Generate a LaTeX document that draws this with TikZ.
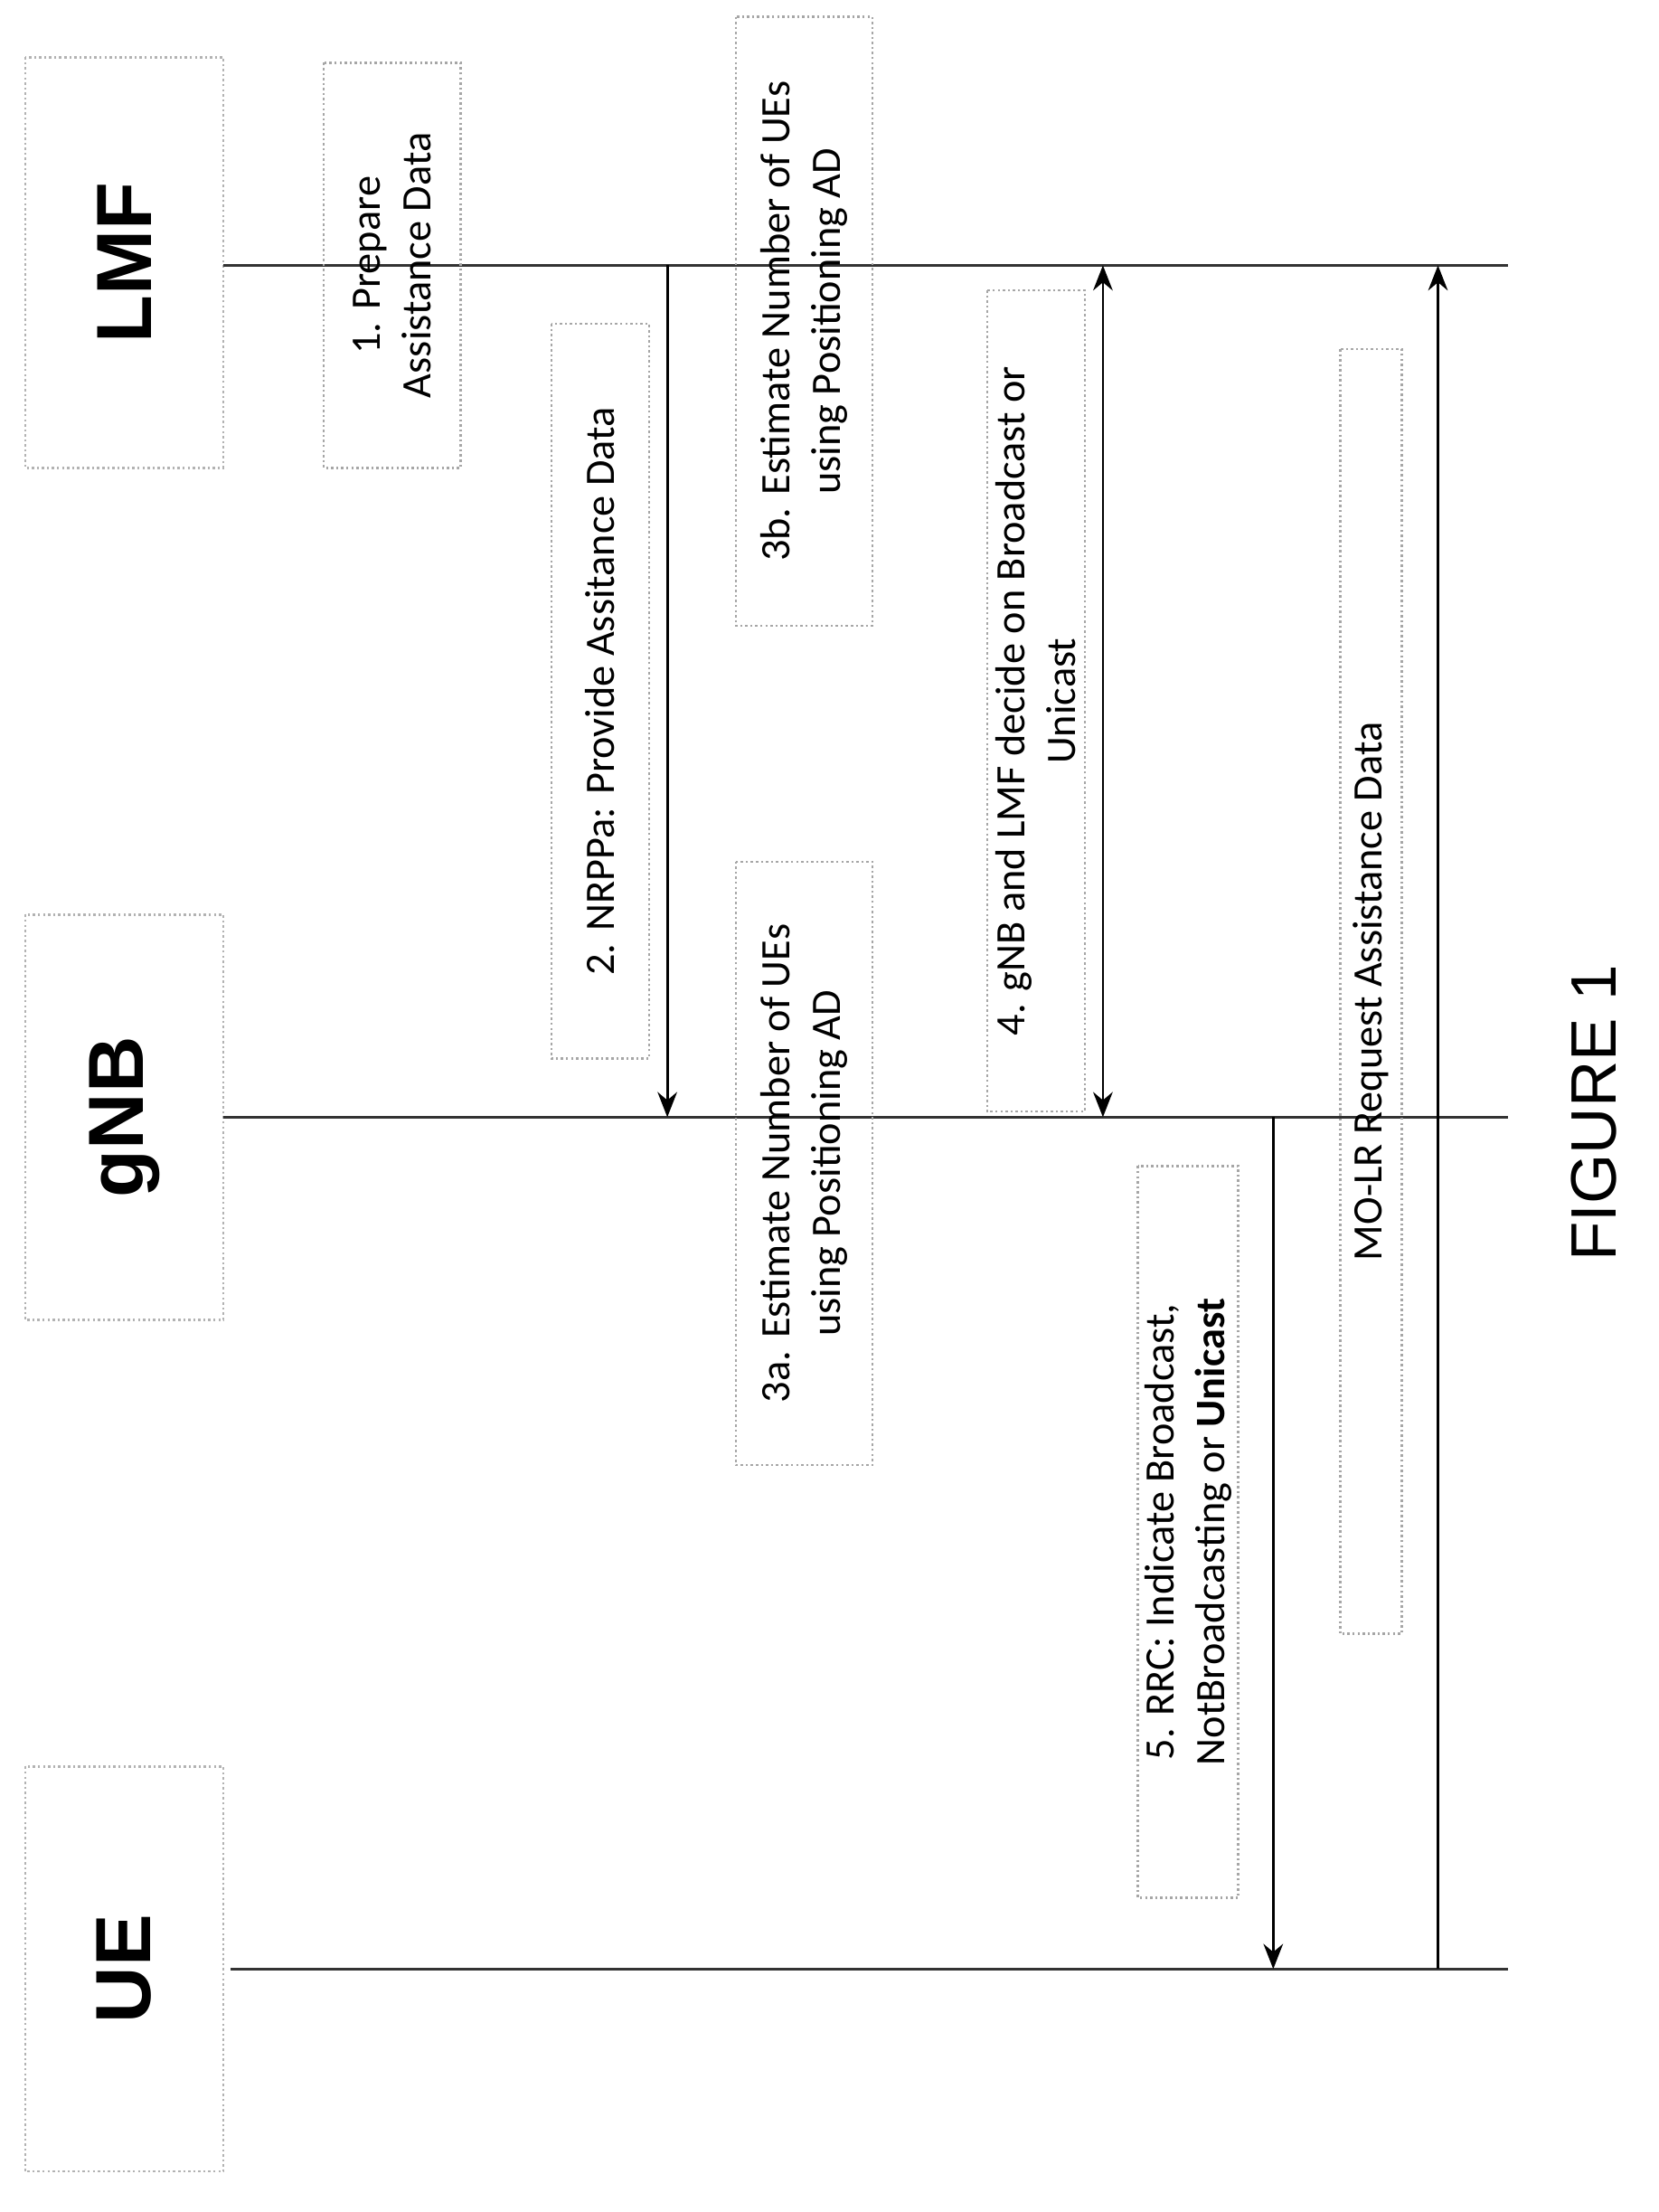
\documentclass[tikz,border=0pt]{standalone}
\usepackage{fontspec}
\setmainfont{Carlito}
\newfontfamily\hdr{Liberation Sans}
\usetikzlibrary{arrows.meta}
\begin{document}
\begin{tikzpicture}[x=0.5pt,y=-0.5pt,
  box/.style={draw=gray!70,densely dotted,line width=0.8pt,rotate=90,inner sep=2pt,align=center,font=\fontsize{15}{18}\selectfont},
  hbox/.style={draw=gray!60,densely dotted,line width=0.8pt,rotate=90,font=\hdr\bfseries\fontsize{28}{30}\selectfont},
  life/.style={line width=0.9pt,draw=black!80},
  msg/.style={line width=0.9pt,-{Stealth[length=9pt,width=7pt]}}]
\useasboundingbox (0,0) rectangle (1188,1584);
% headers
\node[hbox,minimum width=145pt,minimum height=71pt] (ue) at (89,1410) {UE};
\node[hbox,minimum width=145pt,minimum height=71pt] (gnb) at (89,800) {gNB};
\node[hbox,minimum width=147pt,minimum height=71pt] (lmf) at (89,188) {LMF};
% lifelines
\coordinate (lmfE) at (1080,190);
\coordinate (gnbE) at (1080,800);
\coordinate (ueE) at (1080,1410);
\draw[life] (160,190) -- (lmfE);
\draw[life] (160,800) -- (gnbE);
\draw[life] (165,1410) -- (ueE);
% boxes
\node[box,minimum width=145pt,minimum height=49pt] (b1) at (281,190) {1. Prepare\\Assistance Data};
\node[box,minimum width=263pt,minimum height=35pt] (b2) at (430,495) {2. NRPPa: Provide Assitance Data};
\node[box,minimum width=216pt,minimum height=49pt] (b3a) at (576,833) {3a. Estimate Number of UEs\\using Positioning AD};
\node[box,minimum width=218pt,minimum height=49pt] (b3b) at (576,230) {3b. Estimate Number of UEs\\using Positioning AD};
\node[box,minimum width=294pt,minimum height=35pt] (b4) at (742,502) {4. gNB and LMF decide on Broadcast or\\Unicast};
\node[box,minimum width=262pt,minimum height=36pt] (b5) at (851,1097) {5. RRC: Indicate Broadcast,\\NotBroadcasting or \textbf{Unicast}};
\node[box,minimum width=460pt,minimum height=22pt] (b6) at (982,710) {MO-LR Request Assistance Data};
% arrows
\coordinate (a2s) at (478,190); \coordinate (a2e) at (478,800);
\draw[msg] (a2s) -- (a2e);
\coordinate (a4s) at (790,190); \coordinate (a4e) at (790,800);
\draw[msg,{Stealth[length=9pt,width=7pt]}-{Stealth[length=9pt,width=7pt]}] (a4s) -- (a4e);
\coordinate (a5s) at (912,800); \coordinate (a5e) at (912,1410);
\draw[msg] (a5s) -- (a5e);
\coordinate (a6s) at (1030,1410); \coordinate (a6e) at (1030,190);
\draw[msg] (a6s) -- (a6e);
\node[rotate=90,font=\hdr\fontsize{23}{25}\selectfont] (fig) at (1142,797) {FIGURE 1};
\end{tikzpicture}
\end{document}
